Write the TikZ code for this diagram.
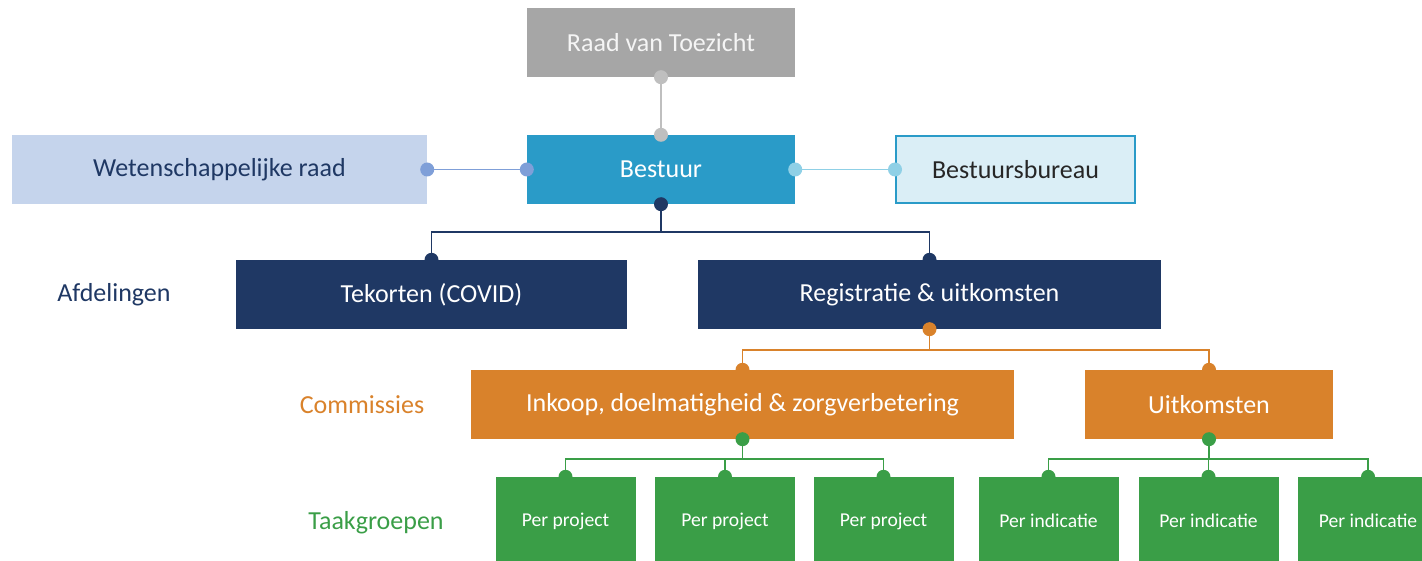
\documentclass[tikz,border=0pt]{standalone}
\usepackage{fontspec}
\setmainfont{Carlito}
\definecolor{grijs}{HTML}{A6A6A6}
\definecolor{grijslijn}{HTML}{BFBFBF}
\definecolor{blauw}{HTML}{2A9BC8}
\definecolor{lichtblauw}{HTML}{C5D4EC}
\definecolor{paars}{HTML}{7F9FD8}
\definecolor{ijsblauw}{HTML}{DAEEF6}
\definecolor{cyaan}{HTML}{8FD0E6}
\definecolor{navy}{HTML}{1F3864}
\definecolor{oranje}{HTML}{D9822B}
\definecolor{groen}{HTML}{3A9E47}
\tikzset{
  box/.style={minimum height=69pt, inner sep=0pt, text=white},
  groep/.style={minimum width=140pt, minimum height=88pt, inner sep=0pt, text=white,
    fill=groen, font=\fontsize{19.6}{22}\selectfont},
  lijn/.style={line width=1.8pt}
}
\begin{document}
\begin{tikzpicture}[x=1pt, y=-1pt, font=\fontsize{26}{30}\selectfont, line cap=round]
 \useasboundingbox (0,0) rectangle (1422,561);
 % boxes
 \node[box, fill=grijs, text=white!92!gray, minimum width=268pt] (rvt) at (661,42.5) {Raad van Toezicht};
 \node[box, fill=blauw, minimum width=268pt] (bestuur) at (661,169.5) {Bestuur};
 \node[box, fill=lichtblauw, text=navy, minimum width=415pt] (wr) at (219.5,169.5) {Wetenschappelijke raad};
 \node[box, fill=ijsblauw, draw=blauw, line width=2pt, text=black!85, minimum width=239pt, minimum height=67pt] (bb) at (1015.5,169.5) {Bestuursbureau};
 \node[box, fill=navy, minimum width=391pt] (tekort) at (431.5,294.5) {Tekorten (COVID)};
 \node[box, fill=navy, minimum width=463pt] (reg) at (929.5,294.5) {Registratie \& uitkomsten};
 \node[box, fill=oranje, minimum width=543pt] (inkoop) at (742.5,404.5) {Inkoop, doelmatigheid \& zorgverbetering};
 \node[box, fill=oranje, minimum width=248pt] (uitk) at (1209,404.5) {Uitkomsten};
 \foreach \n/\x/\t in {p1/565.5/project, p2/725/project, p3/883.5/project,
                       i1/1048.5/indicatie, i2/1208.5/indicatie, i3/1368/indicatie}
   \node[groep] (\n) at (\x,521) {Per \t};
 % row labels
 \node[text=navy] (afd) at (114,295) {Afdelingen};
 \node[text=oranje] (com) at (362,405) {Commissies};
 \node[text=groen] (tg) at (376,523) {Taakgroepen};
 % connectors
 \draw[lijn, grijslijn] (rvt.south) -- (bestuur.north);
 \draw[lijn, paars] (wr.east) -- (bestuur.west);
 \draw[lijn, cyaan] (bestuur.east) -- (bb.west);
 \draw[lijn, navy] (bestuur.south) -- ++(0,28) -| (tekort.north);
 \draw[lijn, navy] (bestuur.south) -- ++(0,28) -| (reg.north);
 \foreach \k in {inkoop, uitk} \draw[lijn, oranje] (reg.south) -- ++(0,21) -| (\k.north);
 \foreach \k in {p1,p2,p3} \draw[lijn, groen] (inkoop.south) -- ++(0,20) -| (\k.north);
 \foreach \k in {i1,i2,i3} \draw[lijn, groen] (uitk.south) -- ++(0,20) -| (\k.north);
 % dots
 \foreach \p/\c in {rvt.south/grijslijn, bestuur.north/grijslijn, wr.east/paars, bestuur.west/paars,
                    bestuur.east/cyaan, bb.west/cyaan, bestuur.south/navy, tekort.north/navy, reg.north/navy,
                    reg.south/oranje, inkoop.north/oranje, uitk.north/oranje,
                    inkoop.south/groen, uitk.south/groen, p1.north/groen, p2.north/groen, p3.north/groen,
                    i1.north/groen, i2.north/groen, i3.north/groen}
   \fill[\c] (\p) circle (7pt);
\end{tikzpicture}
\end{document}
